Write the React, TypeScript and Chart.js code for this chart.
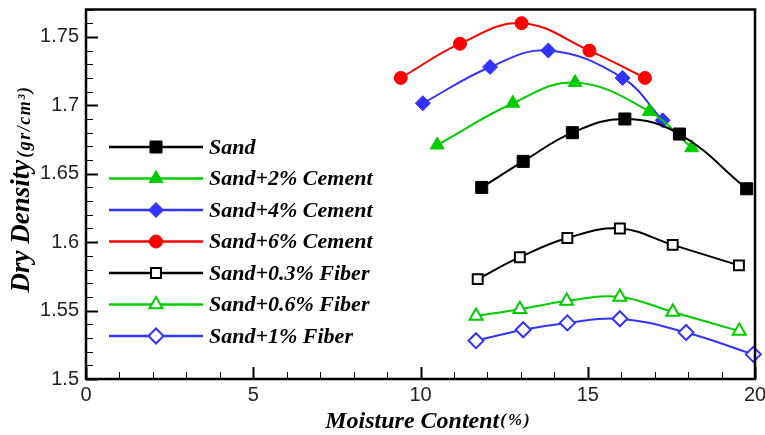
import React, { useEffect, useRef } from 'react';
import { Chart, registerables } from 'chart.js';
import { drawPoint } from 'chart.js/helpers';

Chart.register(...registerables);

const seriesNames = [
  'Sand',
  'Sand+2% Cement',
  'Sand+4% Cement',
  'Sand+6% Cement',
  'Sand+0.3% Fiber',
  'Sand+0.6% Fiber',
  'Sand+1% Fiber',
];

const sandX = [11.83, 13.07, 14.54, 16.11, 17.74, 19.75];
const sandY = [1.640, 1.659, 1.680, 1.690, 1.679, 1.639];
const cement2X = [10.5, 12.76, 14.62, 16.84, 18.11];
const cement2Y = [1.671, 1.7015, 1.7166, 1.6955, 1.669];
const cement4X = [10.07, 12.08, 13.82, 16.04, 17.24];
const cement4Y = [1.7015, 1.728, 1.740, 1.720, 1.689];
const cement6X = [9.41, 11.18, 13.02, 15.05, 16.71];
const cement6Y = [1.720, 1.745, 1.760, 1.740, 1.720];
const fiber03X = [11.71, 12.97, 14.39, 15.96, 17.54, 19.52];
const fiber03Y = [1.573, 1.589, 1.603, 1.610, 1.598, 1.583];
const fiber06X = [11.66, 12.97, 14.37, 15.96, 17.54, 19.53];
const fiber06Y = [1.546, 1.551, 1.557, 1.560, 1.549, 1.535];
const fiber1X = [11.66, 13.07, 14.39, 15.96, 17.94, 19.95];
const fiber1Y = [1.528, 1.536, 1.541, 1.544, 1.534, 1.518];

const xTickValues = [0, 5, 10, 15, 20];
const xTickLabels = ['0', '5', '10', '15', '20'];
const yTickValues = [1.5, 1.55, 1.6, 1.65, 1.7, 1.75];
const yTickLabels = ['1.5', '1.55', '1.6', '1.65', '1.7', '1.75'];

const X_MIN = 0;
const X_MAX = 20;
const Y_MIN = 1.5;
const Y_MAX = 1.77;
const X_MINOR = 1;
const Y_MINOR = 0.01;

const BLACK = '#000000';
const GREEN = '#00CC00';
const BLUE = '#3333FF';
const RED = '#FF0000';

const SERIF = '"Liberation Serif", "Times New Roman", serif';
const SANS = '"Liberation Sans", Arial, sans-serif';

const toPts = (xs: number[], ys: number[]) => xs.map((x, i) => ({ x, y: ys[i] }));

const frameAndDecor = {
  id: 'frameAndDecor',
  afterDraw(chart: any) {
    const { ctx, chartArea, scales } = chart;
    const { left, right, top, bottom } = chartArea;
    const xs = scales.x;
    const ys = scales.y;
    ctx.save();
    ctx.strokeStyle = '#000';
    const nx = Math.round((X_MAX - X_MIN) / X_MINOR);
    for (let i = 0; i <= nx; i++) {
      const v = X_MIN + i * X_MINOR;
      const px = Math.round(xs.getPixelForValue(v)) + 0.5;
      const major = i % 5 === 0;
      ctx.lineWidth = major ? 2 : 1;
      ctx.beginPath();
      ctx.moveTo(px, bottom);
      ctx.lineTo(px, bottom - (major ? 12 : 7));
      ctx.stroke();
    }
    const ny = Math.round((Y_MAX - Y_MIN) / Y_MINOR);
    for (let k = 0; k <= ny; k++) {
      const v = Y_MIN + k * Y_MINOR;
      const py = Math.round(ys.getPixelForValue(v)) + 0.5;
      const major = k % 5 === 0;
      ctx.lineWidth = major ? 2 : 1;
      ctx.beginPath();
      ctx.moveTo(left, py);
      ctx.lineTo(left + (major ? 12 : 7), py);
      ctx.stroke();
    }
    ctx.lineWidth = 2.5;
    ctx.strokeRect(left, top, right - left, bottom - top);

    // legend
    const legX0 = left + 23;
    const legX1 = left + 117;
    const legMarkX = left + 70;
    const legTextX = left + 123;
    const legY0 = 147;
    const legDY = 31.5;
    chart.data.datasets.forEach((ds: any, i: number) => {
      const yy = legY0 + i * legDY;
      ctx.strokeStyle = ds.borderColor;
      ctx.lineWidth = 2.5;
      ctx.beginPath();
      ctx.moveTo(legX0, yy);
      ctx.lineTo(legX1, yy);
      ctx.stroke();
      ctx.fillStyle = ds.pointBackgroundColor;
      ctx.strokeStyle = ds.borderColor;
      ctx.lineWidth = ds.pointBorderWidth;
      drawPoint(ctx, { pointStyle: ds.pointStyle, radius: ds.pointRadius, rotation: 0, borderWidth: ds.pointBorderWidth } as any, legMarkX, yy);
      ctx.fillStyle = '#000';
      ctx.font = `italic bold 22px ${SERIF}`;
      ctx.textBaseline = 'middle';
      ctx.textAlign = 'left';
      ctx.fillText(ds.label, legTextX, yy + 1);
    });

    // x title
    ctx.fillStyle = '#000';
    ctx.textBaseline = 'alphabetic';
    ctx.textAlign = 'left';
    const mainX = 'Moisture Content';
    const subX = '(%)';
    ctx.font = `italic bold 24px ${SERIF}`;
    const w1 = ctx.measureText(mainX).width;
    ctx.font = `italic bold 17px ${SERIF}`;
    (ctx as any).letterSpacing = '2px';
    const w2 = ctx.measureText(subX).width;
    (ctx as any).letterSpacing = '0px';
    const startX = 428 - (w1 + w2) / 2;
    ctx.font = `italic bold 24px ${SERIF}`;
    ctx.fillText(mainX, startX, 428);
    ctx.font = `italic bold 17px ${SERIF}`;
    (ctx as any).letterSpacing = '2px';
    ctx.fillText(subX, startX + w1 + 1, 425);
    (ctx as any).letterSpacing = '0px';

    // y title
    ctx.save();
    ctx.translate(29, 190);
    ctx.rotate(-Math.PI / 2);
    const mainY = 'Dry Density';
    const subY = '(gr/cm³)';
    ctx.font = `italic bold 27px ${SERIF}`;
    const h1 = ctx.measureText(mainY).width;
    ctx.font = `italic bold 18px ${SERIF}`;
    (ctx as any).letterSpacing = '1.5px';
    const h2 = ctx.measureText(subY).width;
    (ctx as any).letterSpacing = '0px';
    const sY = -(h1 + h2) / 2;
    ctx.font = `italic bold 27px ${SERIF}`;
    ctx.fillText(mainY, sY, 0);
    ctx.font = `italic bold 18px ${SERIF}`;
    (ctx as any).letterSpacing = '1.5px';
    ctx.fillText(subY, sY + h1 + 2, 1);
    (ctx as any).letterSpacing = '0px';
    ctx.restore();

    ctx.restore();
  },
};

export default function App() {
  const ref = useRef<HTMLCanvasElement | null>(null);
  useEffect(() => {
    if (!ref.current) return;
    const mk = (label: string, xs: number[], ys: number[], color: string, style: string, radius: number, open: boolean) => ({
      label,
      data: toPts(xs, ys),
      borderColor: color,
      backgroundColor: color,
      borderWidth: 2,
      tension: 0.4,
      pointStyle: style,
      pointRadius: radius,
      pointHoverRadius: radius,
      pointBackgroundColor: open ? '#FFFFFF' : color,
      pointBorderColor: color,
      pointBorderWidth: open ? 2 : 1,
      clip: false,
      fill: false,
    });
    const chart = new Chart(ref.current, {
      type: 'line',
      data: {
        datasets: [
          mk(seriesNames[0], sandX, sandY, BLACK, 'rect', 8.5, false),
          mk(seriesNames[1], cement2X, cement2Y, GREEN, 'triangle', 8, false),
          mk(seriesNames[2], cement4X, cement4Y, BLUE, 'rectRot', 7.5, false),
          mk(seriesNames[3], cement6X, cement6Y, RED, 'circle', 6.5, false),
          mk(seriesNames[4], fiber03X, fiber03Y, BLACK, 'rect', 7, true),
          mk(seriesNames[5], fiber06X, fiber06Y, GREEN, 'triangle', 7.5, true),
          mk(seriesNames[6], fiber1X, fiber1Y, BLUE, 'rectRot', 7.5, true),
        ] as any,
      },
      options: {
        responsive: false,
        animation: false,
        events: [],
        layout: { padding: { top: 7, right: 10, left: 0, bottom: 0 } },
        plugins: {
          legend: { display: false },
          tooltip: { enabled: false },
          title: { display: false },
        },
        scales: {
          x: {
            type: 'linear',
            min: X_MIN,
            max: X_MAX,
            grid: { display: false, drawTicks: false },
            border: { display: false },
            afterBuildTicks: (s: any) => {
              s.ticks = xTickValues.map((v) => ({ value: v }));
            },
            afterFit: (s: any) => {
              s.height = 56;
              s.paddingLeft = 0;
              s.paddingRight = 0;
            },
            ticks: {
              padding: 4,
              color: '#222',
              font: { family: SANS, size: 20 },
              maxRotation: 0,
              autoSkip: false,
              callback: (v: any) => {
                const i = xTickValues.indexOf(Number(v));
                return i >= 0 ? xTickLabels[i] : '';
              },
            },
          },
          y: {
            type: 'linear',
            min: Y_MIN,
            max: Y_MAX,
            grid: { display: false, drawTicks: false },
            border: { display: false },
            afterBuildTicks: (s: any) => {
              s.ticks = yTickValues.map((v) => ({ value: v }));
            },
            afterFit: (s: any) => {
              s.width = 86;
              s.paddingTop = 0;
              s.paddingBottom = 0;
            },
            ticks: {
              padding: 7,
              color: '#222',
              font: { family: SANS, size: 20 },
              autoSkip: false,
              callback: (v: any) => {
                const i = yTickValues.findIndex((t) => Math.abs(t - Number(v)) < 1e-9);
                return i >= 0 ? yTickLabels[i] : '';
              },
            },
          },
        },
      },
      plugins: [frameAndDecor],
    });
    return () => chart.destroy();
  }, []);
  return (
    <div style={{ position: 'fixed', left: 0, top: 0, width: 765, height: 435, background: '#fff' }}>
      <canvas ref={ref} width={765} height={435} style={{ display: 'block' }} />
    </div>
  );
}
